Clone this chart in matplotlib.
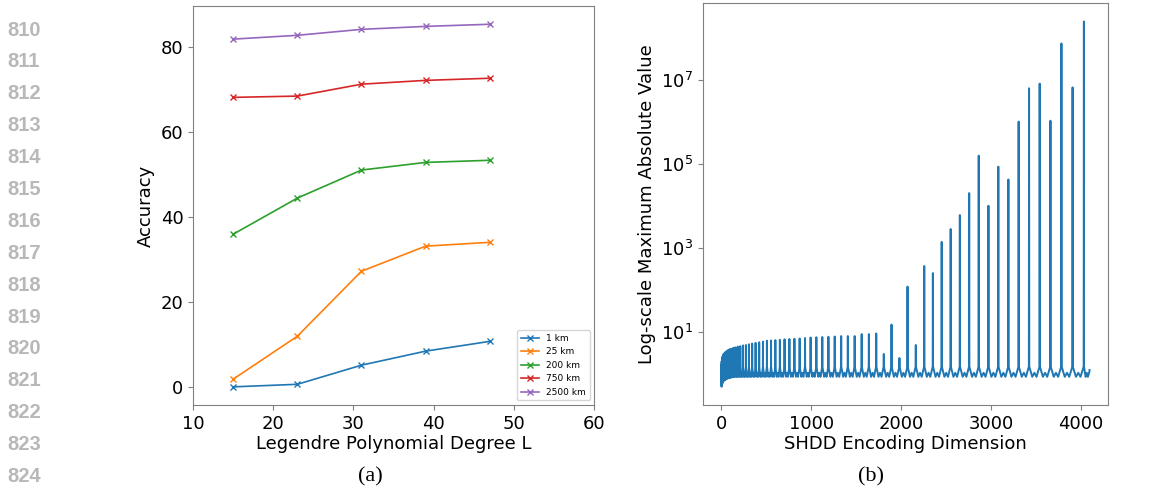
import numpy as np
import matplotlib
matplotlib.use('Agg')
import matplotlib.pyplot as plt
from matplotlib.ticker import LogLocator, NullLocator

# ---- (a) accuracy vs Legendre degree ----
degrees = [15, 23, 31, 39, 47]
acc_1km = [0.1, 0.7, 5.2, 8.5, 10.8]
acc_25km = [1.9, 12.0, 27.3, 33.2, 34.1]
acc_200km = [36.0, 44.5, 51.1, 52.9, 53.4]
acc_750km = [68.2, 68.5, 71.3, 72.2, 72.7]
acc_2500km = [81.9, 82.8, 84.2, 84.9, 85.4]
series_labels = ['1 km', '25 km', '200 km', '750 km', '2500 km']

# ---- (b) max abs value per SHDD dimension (spikes) ----
spike_dim = [0, 2, 6, 12, 20, 30, 42, 56, 72, 90, 110, 132, 156, 182, 210,
             240, 272, 306, 342, 380, 420, 462, 506, 552, 600, 650, 702, 756,
             812, 870, 930, 992, 1056, 1122, 1190, 1260, 1332, 1406, 1482,
             1560, 1640, 1722, 1806, 1892, 1980, 2070, 2162, 2256, 2352, 2450,
             2550, 2652, 2756, 2862, 2970, 3080, 3192, 3306, 3422, 3540, 3660,
             3782, 3906, 4032]
spike_peak = [1.6, 2.0, 2.3, 2.6, 2.9, 3.1, 3.3, 3.5, 3.7, 3.9, 4.0, 4.2, 4.3,
              4.5, 4.6, 4.8, 4.9, 5.1, 5.3, 5.5, 5.7, 5.9, 6.2, 6.3, 6.4, 6.5,
              6.7, 6.8, 6.9, 7.0, 7.2, 7.4, 7.5, 7.6, 7.7, 7.8, 8.0, 8.0, 8.0,
              8.9, 8.9, 9.2, 3.0, 15, 2.4, 120, 4.9, 370, 250, 1380, 2800, 6000,
              2.0e4, 1.55e5, 1.0e4, 8.5e4, 4.2e4, 1.0e6, 6.2e6, 8e6, 1.05e6,
              7.2e7, 6.5e6, 2.4e8]
gap_floor = [0.5, 0.55, 0.6, 0.65, 0.69, 0.72, 0.75, 0.78, 0.8, 0.82, 0.84] + [0.86] * 53
gap_bump = 1.07
shoulder = 1.5
last_dim = 4095
last_val = 1.25

# build the polyline: peak -> shoulder -> floor -> bump -> floor -> shoulder -> next peak
dims, vals = [], []
ends = spike_dim[1:] + [last_dim]
for i, (x0, x1) in enumerate(zip(spike_dim, ends)):
    g = x1 - x0
    fl = gap_floor[i]
    dims += [x0, x0 + 0.02 * g, x0 + 0.3 * g, x0 + 0.5 * g, x0 + 0.7 * g, x1 - 0.02 * g]
    vals += [spike_peak[i], min(shoulder, spike_peak[i]), fl, gap_bump, fl,
             min(shoulder, spike_peak[i + 1]) if i + 1 < len(spike_peak) else 1.15]
dims.append(last_dim)
vals.append(last_val)

plt.rcParams['font.size'] = 13
fig = plt.figure(figsize=(11.58, 4.9), dpi=100)

ax1 = fig.add_axes([0.1667, 0.1735, 0.3463, 0.814])
for ys, lab in zip([acc_1km, acc_25km, acc_200km, acc_750km, acc_2500km], series_labels):
    ax1.plot(degrees, ys, marker='x', markersize=5, linewidth=1.2, label=lab)
ax1.set_xlim(10, 60)
ax1.set_ylabel('Accuracy')
ax1.set_xlabel('Legendre Polynomial Degree L', labelpad=2)
ax1.legend(loc='lower right', fontsize=6.5)

ax2 = fig.add_axes([0.6071, 0.1735, 0.3497, 0.820])
ax2.plot(dims, vals, color='#1f77b4', linewidth=1.4)
ax2.set_yscale('log')
ax2.yaxis.set_major_locator(LogLocator(base=100, subs=[10]))
ax2.yaxis.set_minor_locator(NullLocator())
ax2.set_xlabel('SHDD Encoding Dimension', labelpad=2)
ax2.set_ylabel('Log-scale Maximum Absolute Value')

for ax in (ax1, ax2):
    for s in ax.spines.values():
        s.set_color('#808080')
    ax.tick_params(colors='#808080', labelcolor='black')

# paper line numbers and captions
for k, num in enumerate(range(810, 825)):
    fig.text(0.006, 1 - (30 + k * 31.9) / 490, str(num), color='#b8b8b8',
             fontsize=14.5, fontweight='bold', family='Liberation Sans', va='center')
fig.text(370 / 1158, 1 - 477 / 490, '(a)', family='Liberation Serif', fontsize=16,
         ha='center', va='center')
fig.text(871 / 1158, 1 - 477 / 490, '(b)', family='Liberation Serif', fontsize=16,
         ha='center', va='center')

fig.savefig('out.png', dpi=100)
